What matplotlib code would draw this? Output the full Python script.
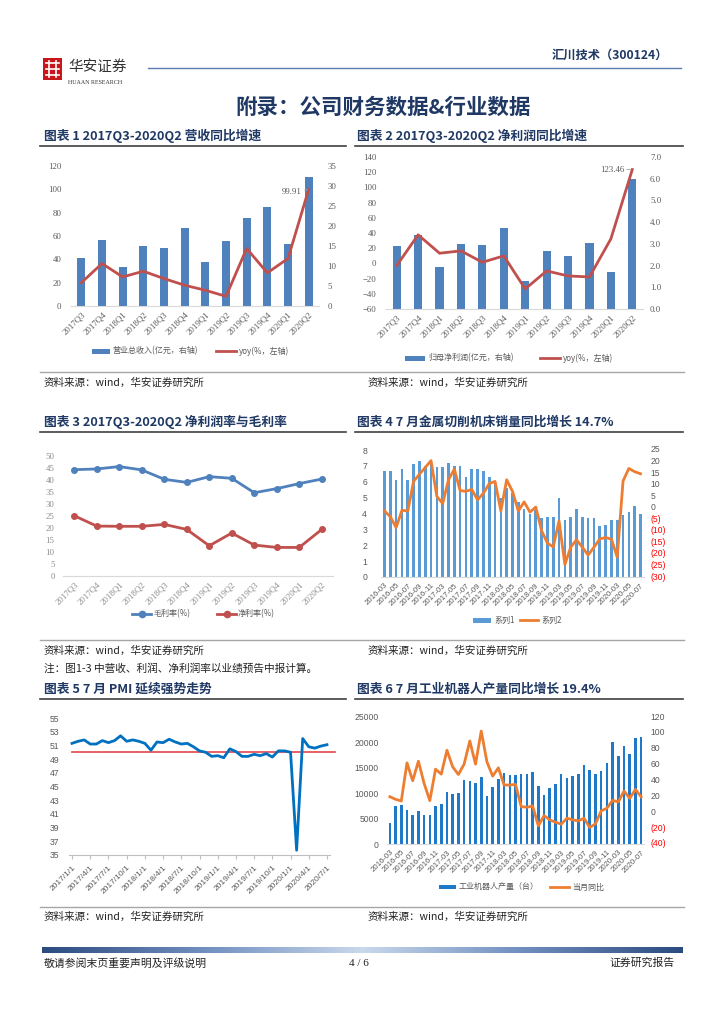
import matplotlib
matplotlib.use('Agg')
import matplotlib.pyplot as plt
from matplotlib.lines import Line2D
from matplotlib.patches import Rectangle
from matplotlib.colors import LinearSegmentedColormap
import matplotlib.transforms as mtrans
import numpy as np

# ---------------- data ----------------
q_labels = ['2017Q3', '2017Q4', '2018Q1', '2018Q2', '2018Q3', '2018Q4',
            '2019Q1', '2019Q2', '2019Q3', '2019Q4', '2020Q1', '2020Q2']
revenue = [12.0, 16.5, 9.8, 15.0, 14.6, 19.4, 11.0, 16.2, 21.9, 24.8, 15.5, 32.2]
revenue_yoy = [20.0, 36.4, 24.9, 29.8, 23.5, 17.8, 13.5, 8.3, 49.3, 28.4, 40.7, 99.91]
profit = [2.9, 3.4, 1.94, 2.98, 2.95, 3.72, 1.28, 2.68, 2.46, 3.06, 1.71, 6.0]
profit_yoy = [-2.9, 37.6, 13.4, 16.5, 1.5, 9.9, -33.6, -9.9, -16.5, -17.8, 32.3, 123.46]
gross_margin = [44.3, 44.6, 45.6, 44.2, 40.3, 39.0, 41.4, 40.7, 34.7, 36.4, 38.5, 40.4]
net_margin = [25.1, 20.8, 20.7, 20.7, 21.5, 19.4, 12.6, 17.9, 12.9, 11.9, 11.9, 19.4]

month_labels = [f'{y}-{m:02d}' for y in range(2016, 2021) for m in range(3, 13)
                if not (y == 2020 and m > 7)]
machine_sales = [6.7, 6.7, 6.1, 6.8, 6.1, 7.1, 7.3, 7.0, 7.1, 6.9,
                 6.9, 7.2, 7.0, 7.0, 6.3, 6.8, 6.8, 6.7, 6.3, 6.0,
                 5.0, 5.6, 5.3, 4.7, 4.3, 4.0, 4.2, 3.7, 3.8, 3.8,
                 5.0, 3.6, 3.8, 4.3, 3.8, 3.7, 3.7, 3.2, 3.3, 3.6,
                 3.6, 3.9, 4.1, 4.5, 4.0]
machine_yoy = [-1.4, -3.9, -8.6, -1.1, -1.4, 11.4, 14.5, 17.4, 20.4, 4.9,
               1.8, 12.1, 16.7, 7.4, 7.1, 7.9, 3.4, 6.3, 10.4, 11.4,
               -1.4, 12.1, 7.1, -1.4, 2.5, -1.9, 0.3, -10.0, -15.3, -17.0,
               -5.7, -24.6, -17.1, -13.9, -17.1, -20.5, -17.1, -13.5, -12.9, -13.6,
               -21.4, 11.6, 17.0, 15.6, 14.7]

pmi_labels = [f'{y}/{m}/1' for y in range(2017, 2021) for m in range(1, 13)
              if not (y == 2020 and m > 7)]
pmi = [51.3, 51.6, 51.8, 51.2, 51.2, 51.7, 51.4, 51.7, 52.4, 51.6, 51.8, 51.6,
       51.3, 50.3, 51.5, 51.4, 51.9, 51.5, 51.2, 51.3, 50.8, 50.2, 50.0, 49.4,
       49.5, 49.2, 50.5, 50.1, 49.4, 49.4, 49.7, 49.5, 49.8, 49.3, 50.2, 50.2,
       50.0, 35.7, 52.0, 50.8, 50.6, 50.9, 51.1]
pmi_line = 50

robot_output = [4200, 7500, 7600, 6600, 5800, 6500, 5800, 5700, 7500, 7900,
                10200, 9800, 10000, 12600, 12400, 12100, 13100, 9400, 11300, 12700,
                14000, 13500, 13600, 13800, 13700, 14100, 11400, 9600, 11100, 11900,
                13700, 12900, 13300, 13700, 15500, 14600, 13700, 14400, 16000, 20000,
                17300, 19200, 17700, 20800, 21100]
robot_yoy = [19.6, 16.3, 14.2, 62.2, 39.7, 64.3, 36.3, 14.6, 54.3, 48.0,
             78.1, 57.2, 47.6, 60.6, 89.8, 60.6, 102.3, 63.5, 45.5, 56.0,
             34.3, 34.3, 35.1, 7.1, 6.3, 7.9, -17.1, -4.2, -9.6, -12.5,
             -15.0, -7.5, -9.6, -10.9, -7.5, -19.2, -14.6, 1.7, 5.0, 15.0,
             13.0, 26.7, 17.5, 28.8, 19.4]

# ---------------- page setup ----------------
W, H = 724, 1024
fig = plt.figure(figsize=(W / 100, H / 100), dpi=100)
fig.patch.set_facecolor('white')

CJK = ['Noto Sans CJK SC', 'DejaVu Sans']
SERIF = ['Liberation Serif', 'DejaVu Serif']
SANS = ['Liberation Sans', 'DejaVu Sans']
NAVY = '#1F3864'
GRAY = '#595959'


def AX(x0, y0, x1, y1):
    return fig.add_axes([x0 / W, 1 - y1 / H, (x1 - x0) / W, (y1 - y0) / H])


def T(x, y, s, **kw):
    kw.setdefault('family', CJK)
    kw.setdefault('va', 'center')
    fig.text(x / W, 1 - y / H, s, **kw)


def HL(x0, x1, y, **kw):
    fig.add_artist(Line2D([x0 / W, x1 / W], [1 - y / H, 1 - y / H],
                          transform=fig.transFigure, **kw))


def leg_patch(x0, x1, y, color, h=5):
    fig.add_artist(Rectangle((x0 / W, 1 - (y + h / 2) / H), (x1 - x0) / W, h / H,
                             transform=fig.transFigure, color=color, lw=0))


def leg_line(x0, x1, y, color, lw=2, marker=None):
    HL(x0, x1, y, color=color, lw=lw)
    if marker:
        fig.add_artist(Line2D([(x0 + x1) / 2 / W], [1 - y / H], transform=fig.transFigure,
                              marker=marker, color=color, markersize=4.5, lw=0))


def style(ax, left=True):
    for s in ['top', 'right', 'left']:
        ax.spines[s].set_visible(False)
    ax.spines['bottom'].set_color('#BFBFBF')
    ax.spines['bottom'].set_linewidth(0.8)
    ax.tick_params(axis='y', length=0, colors=GRAY)
    ax.tick_params(axis='x', length=0, colors=GRAY)


# ---------------- header ----------------
fig.add_artist(Rectangle((43 / W, 1 - 80 / H), 19 / W, 22 / H, transform=fig.transFigure,
                         color='#C8161D', lw=0))
for yy in [63, 69, 75]:
    HL(46, 59, yy, color='white', lw=1.2)
for xx in [49, 56]:
    fig.add_artist(Line2D([xx / W, xx / W], [1 - 61 / H, 1 - 77 / H],
                          transform=fig.transFigure, color='white', lw=1.2))
T(68, 67, '华安证券', fontsize=10.5, color='#333333')
T(68, 82, 'HUAAN RESEARCH', fontsize=4.3, color='#333333', family=SERIF)
HL(148, 681, 68, color='#5A7DB0', lw=1.0)
T(668, 55, '汇川技术（300124）', fontsize=8.8, color=NAVY, weight='bold', ha='right')

T(383, 107, '附录：公司财务数据&行业数据', fontsize=15.5, color=NAVY, weight='bold', ha='center')

# chart titles
for (x, y, s) in [(44, 136, '图表 1 2017Q3-2020Q2 营收同比增速'),
                  (357, 136, '图表 2 2017Q3-2020Q2 净利润同比增速'),
                  (44, 422, '图表 3 2017Q3-2020Q2 净利润率与毛利率'),
                  (357, 422, '图表 4 7 月金属切削机床销量同比增长 14.7%'),
                  (44, 689, '图表 5 7 月 PMI 延续强势走势'),
                  (357, 689, '图表 6 7 月工业机器人产量同比增长 19.4%')]:
    T(x, y, s, fontsize=9.2, color=NAVY, weight='bold')
for y in [146, 432, 699]:
    HL(40, 346, y, color='#404040', lw=1.2)
    HL(355, 683, y, color='#404040', lw=1.2)

# source lines
for y in [372, 640, 907]:
    HL(40, 684, y, color='#A6A6A6', lw=1.0)
for y in [383, 651, 917]:
    T(44, y, '资料来源：wind，华安证券研究所', fontsize=7.6, color='#222222')
    T(368, y, '资料来源：wind，华安证券研究所', fontsize=7.6, color='#222222')
T(44, 668, '注：图1-3 中营收、利润、净利润率以业绩预告中报计算。', fontsize=7.7, color='#222222')

# footer
gax = AX(42, 947, 683, 953)
cmap = LinearSegmentedColormap.from_list('g', ['#2B4C7E', '#6F8FBF', '#C9D8EC', '#6F8FBF', '#2B4C7E'])
gax.imshow(np.linspace(0, 1, 400)[None, :], aspect='auto', cmap=cmap, extent=[0, 1, 0, 1])
gax.axis('off')
T(44, 963, '敬请参阅末页重要声明及评级说明', fontsize=7.8, color='#222222')
T(359, 963, '4 / 6', fontsize=8, color='#222222', family=SERIF, ha='center')
T(675, 963, '证券研究报告', fontsize=7.8, color='#222222', ha='right')

x12 = np.arange(len(q_labels))

# ---------------- chart 1 ----------------
ax = AX(71, 166, 319, 306)
ax2 = ax.twinx()
ax2.bar(x12, revenue, width=0.38, color='#4F81BD')
ax.plot(x12, revenue_yoy, color='#C0504D', lw=2)
ax.set_zorder(ax2.get_zorder() + 1)
ax.patch.set_visible(False)
ax.set_ylim(0, 120)
ax.set_yticks(range(0, 121, 20))
ax2.set_ylim(0, 35)
ax2.set_yticks(range(0, 36, 5))
ax.set_xlim(-0.5, 11.5)
for a in (ax, ax2):
    style(a)
    a.spines['bottom'].set_color('#D9D9D9')
ax2.spines['bottom'].set_visible(False)
ax.tick_params(axis='y', pad=7, labelsize=6.3)
ax2.tick_params(axis='y', pad=6, labelsize=6.3)
ax.set_xticks(x12)
ax.set_xticklabels(q_labels, rotation=45, ha='right', rotation_mode='anchor', fontsize=6.3)
for a in (ax, ax2):
    for t in a.get_yticklabels() + a.get_xticklabels():
        t.set_family(SERIF)
ax.annotate('99.91', xy=(11, revenue_yoy[-1]), xytext=(-5, -2), textcoords='offset points',
            ha='right', va='center', fontsize=6.3, color=GRAY, family=SERIF,
            arrowprops=dict(arrowstyle='-', color='#A6A6A6', lw=0.6, shrinkA=0, shrinkB=1))
leg_patch(92, 110, 351, '#4F81BD')
T(113, 351, '营业总收入(亿元，右轴)', fontsize=5.8, color=GRAY)
leg_line(216, 236, 351, '#C0504D')
T(239, 351, 'yoy(%，左轴)', fontsize=5.8, color=GRAY)

# ---------------- chart 2 ----------------
ax = AX(386, 157, 643, 309)
ax2 = ax.twinx()
ax2.bar(x12, profit, width=0.38, color='#4F81BD')
ax.plot(x12, profit_yoy, color='#C0504D', lw=2)
ax.set_zorder(ax2.get_zorder() + 1)
ax.patch.set_visible(False)
ax.set_ylim(-60, 140)
ax.set_yticks(range(-60, 141, 20))
ax2.set_ylim(0, 7)
ax2.set_yticks(np.arange(0, 7.01, 1.0))
ax2.set_yticklabels([f'{v:.1f}' for v in np.arange(0, 7.01, 1.0)])
ax.set_xlim(-0.5, 11.5)
for a in (ax, ax2):
    style(a)
    a.spines['bottom'].set_color('#D9D9D9')
ax2.spines['bottom'].set_visible(False)
ax.tick_params(axis='y', pad=7, labelsize=6.3)
ax2.tick_params(axis='y', pad=5, labelsize=6.3)
ax.set_xticks(x12)
ax.set_xticklabels(q_labels, rotation=45, ha='right', rotation_mode='anchor', fontsize=6.3)
for a in (ax, ax2):
    for t in a.get_yticklabels() + a.get_xticklabels():
        t.set_family(SERIF)
ax.annotate('123.46', xy=(11, profit_yoy[-1]), xytext=(-6, 0), textcoords='offset points',
            ha='right', va='center', fontsize=6.3, color=GRAY, family=SERIF,
            arrowprops=dict(arrowstyle='-', color='#A6A6A6', lw=0.6, shrinkA=0, shrinkB=1))
leg_patch(405, 425, 358, '#4F81BD')
T(428, 358, '归母净利润(亿元，右轴)', fontsize=5.8, color=GRAY)
leg_line(540, 560, 358, '#C0504D')
T(563, 358, 'yoy(%，左轴)', fontsize=5.8, color=GRAY)

# ---------------- chart 3 ----------------
ax = AX(63, 456, 333, 576)
ax.plot(x12, gross_margin, color='#4F81BD', lw=2, marker='o', markersize=4)
ax.plot(x12, net_margin, color='#C0504D', lw=2, marker='o', markersize=4)
ax.set_ylim(0, 50)
ax.set_yticks(range(0, 51, 5))
ax.set_xlim(-0.5, 11.5)
style(ax)
ax.spines['bottom'].set_color('#D9D9D9')
ax.tick_params(axis='y', pad=6, labelsize=6.3)
ax.set_xticks(x12)
ax.set_xticklabels(q_labels, rotation=45, ha='right', rotation_mode='anchor', fontsize=6.3)
for t in ax.get_yticklabels() + ax.get_xticklabels():
    t.set_family(SERIF)
    t.set_color('#8C8C8C')
leg_line(132, 151, 614, '#4F81BD', marker='o')
T(153, 614, '毛利率(%)', fontsize=5.8, color=GRAY)
leg_line(217, 236, 614, '#C0504D', marker='o')
T(238, 614, '净利率(%)', fontsize=5.8, color=GRAY)

# ---------------- chart 4 ----------------
x45 = np.arange(len(month_labels))
ax = AX(381, 450, 644, 577)
ax2 = ax.twinx()
ax.bar(x45, machine_sales, width=0.45, color='#5B9BD5')
ax2.plot(x45, machine_yoy, color='#ED7D31', lw=2)
ax.set_ylim(0, 8)
ax.set_yticks(range(0, 9))
ax2.set_ylim(-30, 25)
ax2.set_yticks([])
ax.set_xlim(-0.6, len(month_labels) - 0.4)
for a in (ax, ax2):
    style(a)
ax2.spines['bottom'].set_visible(False)
ax.spines['bottom'].set_color('#D9D9D9')
ax.tick_params(axis='y', pad=10, labelsize=6.2)
for t in ax.get_yticklabels():
    t.set_family(SANS)
ax.set_xticks(x45[::2])
ax.set_xticklabels(month_labels[::2], rotation=45, ha='right', rotation_mode='anchor',
                   fontsize=5.6, family=SANS)
btr = mtrans.blended_transform_factory(ax2.transAxes, ax2.transData)
for v in range(-30, 26, 5):
    lab = str(v) if v >= 0 else f'({-v})'
    ax2.text(1.025, v, lab, transform=btr, ha='left', va='center', fontsize=6.2, family=SANS,
             color=GRAY if v >= 0 else '#FF0000')
leg_patch(473, 491, 620, '#5B9BD5')
T(494, 620, '系列1', fontsize=5.8, color=GRAY)
leg_line(520, 538, 620, '#ED7D31')
T(541, 620, '系列2', fontsize=5.8, color=GRAY)

# ---------------- chart 5 ----------------
x43 = np.arange(len(pmi_labels))
ax = AX(69, 718, 330, 855)
ax.plot(x43, pmi, color='#0070C0', lw=2, zorder=3)
ax.axhline(pmi_line, xmin=0.01, xmax=1.02, color='#E0474C', lw=1.2, clip_on=False, zorder=2)
ax.set_ylim(35, 55)
ax.set_yticks(range(35, 56, 2))
ax.set_xlim(-0.5, len(pmi_labels) - 0.5)
style(ax)
ax.spines['bottom'].set_color('#BFBFBF')
ax.tick_params(axis='y', pad=7, labelsize=6.2)
for t in ax.get_yticklabels():
    t.set_family(SANS)
ax.set_xticks(x43[::3])
ax.tick_params(axis='x', length=3, color='#BFBFBF', direction='out')
ax.set_xticklabels(pmi_labels[::3], rotation=45, ha='right', rotation_mode='anchor',
                   fontsize=6, family=SANS)

# ---------------- chart 6 ----------------
ax = AX(387, 717, 644, 844)
ax2 = ax.twinx()
ax.bar(x45, robot_output, width=0.45, color='#1F78C8')
ax2.plot(x45, robot_yoy, color='#ED7D31', lw=2)
ax.set_ylim(0, 25000)
ax.set_yticks(range(0, 25001, 5000))
ax2.set_ylim(-40, 120)
ax2.set_yticks([])
ax.set_xlim(-0.5, len(month_labels) - 0.5)
for a in (ax, ax2):
    style(a)
ax2.spines['bottom'].set_visible(False)
ax.spines['bottom'].set_color('#D9D9D9')
ax.tick_params(axis='y', pad=6, labelsize=6.2)
for t in ax.get_yticklabels():
    t.set_family(SANS)
ax.set_xticks(x45[::2])
ax.set_xticklabels(month_labels[::2], rotation=45, ha='right', rotation_mode='anchor',
                   fontsize=5.6, family=SANS)
btr = mtrans.blended_transform_factory(ax2.transAxes, ax2.transData)
for v in range(-40, 121, 20):
    lab = str(v) if v >= 0 else f'({-v})'
    ax2.text(1.025, v, lab, transform=btr, ha='left', va='center', fontsize=6.2, family=SANS,
             color=GRAY if v >= 0 else '#FF0000')
leg_patch(439, 456, 887, '#1F78C8', h=4)
T(459, 887, '工业机器人产量（台）', fontsize=5.8, color=GRAY)
leg_line(550, 569, 887, '#ED7D31')
T(572, 887, '当月同比', fontsize=5.8, color=GRAY)

fig.savefig('out.png', dpi=100)
